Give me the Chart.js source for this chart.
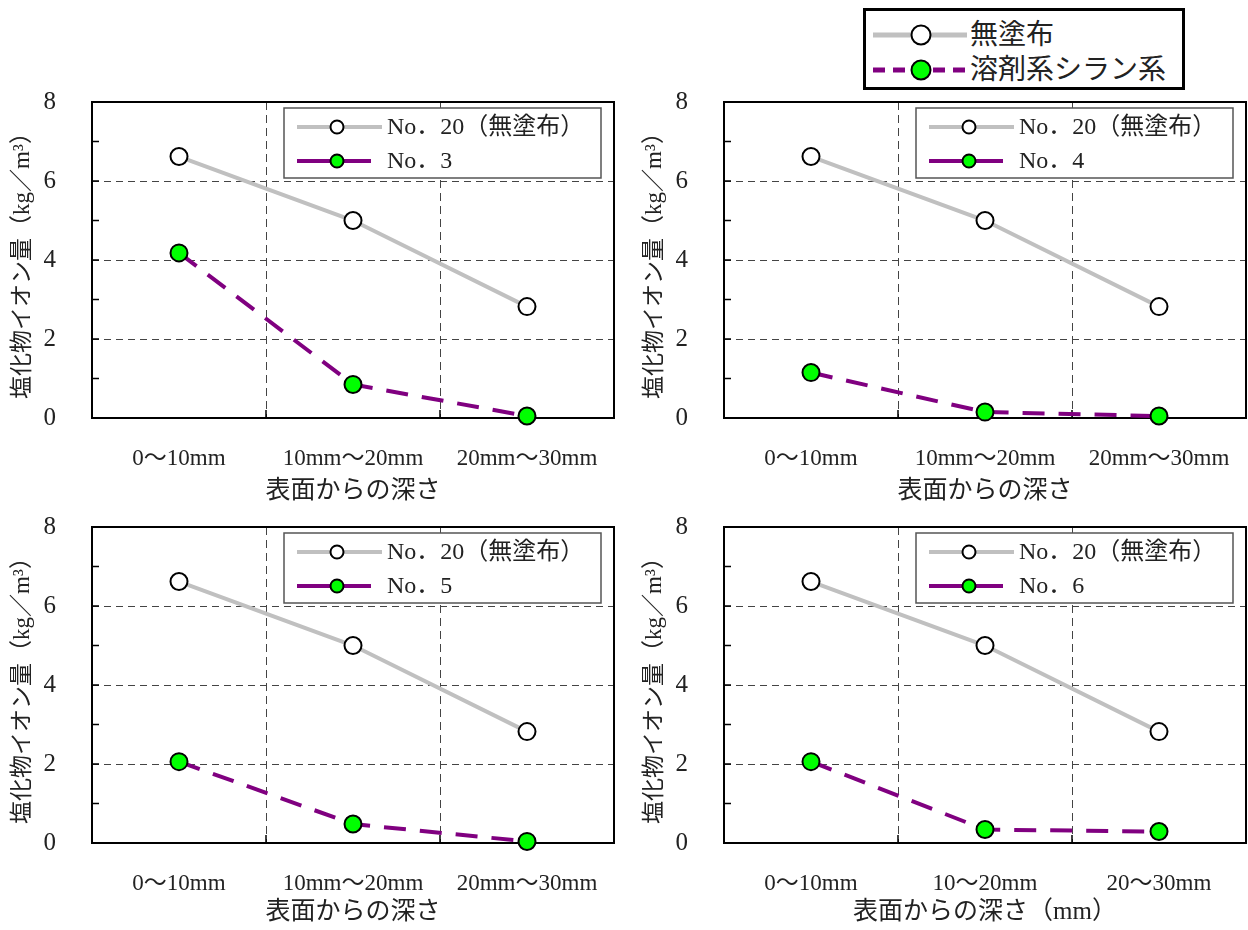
<!DOCTYPE html>
<html>
<head>
<meta charset="utf-8">
<script src="https://cdn.jsdelivr.net/npm/chart.js@4/dist/chart.umd.min.js"></script>
<style>
    body { margin: 0; background: #fff; width: 1248px; height: 930px; position: relative; overflow: hidden; }
    canvas { position: absolute; }
    #legend { position: absolute; left: 863px; top: 8px; width: 316px; height: 76px; border: 3px solid #000; background: #fff; }
    #legend svg { position: absolute; left: 0; top: 0; }
    #legend span { position: absolute; left: 104px; font: 28px 'Liberation Serif', 'Noto Sans CJK JP', serif; color: #222; line-height: 32px; }
</style>
</head>
<body>
<canvas id="p1" width="616" height="515" style="left:0;top:0"></canvas>
<canvas id="p2" width="616" height="515" style="left:632px;top:0"></canvas>
<canvas id="p3" width="616" height="490" style="left:0;top:440px"></canvas>
<canvas id="p4" width="616" height="490" style="left:632px;top:440px"></canvas>
<div id="legend">
    <svg width="316" height="76">
        <line x1="7" y1="24" x2="101" y2="24" stroke="#c0c0c0" stroke-width="5"/>
        <circle cx="55" cy="24" r="9.5" fill="#fff" stroke="#000" stroke-width="2"/>
        <line x1="7" y1="59" x2="101" y2="59" stroke="#800080" stroke-width="5" stroke-dasharray="12 8"/>
        <circle cx="55" cy="59" r="9.5" fill="#00ff00" stroke="#000" stroke-width="2"/>
    </svg>
    <span style="top:8px">無塗布</span>
    <span style="top:43px">溶剤系シラン系</span>
</div>
<script>
const depthLabels = ['0～10mm', '10mm～20mm', '20mm～30mm'];
const depthLabelsShort = ['0～10mm', '10～20mm', '20～30mm'];
const yMax = 8;
const yStep = 2;

const uncoated = [6.62, 5.0, 2.82];
const no3 = [4.18, 0.85, 0.05];
const no4 = [1.15, 0.15, 0.05];
const no5 = [2.06, 0.48, 0.04];
const no6 = [2.06, 0.34, 0.29];

const serif = "'Liberation Serif', 'Noto Sans CJK JP', serif";
const textColor = '#222';

// black frame + small inner ticks
const frame = {
    id: 'frame',
    beforeDatasetsDraw(chart) {
        const { ctx, chartArea: a, scales: { x, y } } = chart;
        ctx.save();
        ctx.strokeStyle = '#000';
        ctx.lineWidth = 1.5;
        ctx.beginPath();
        for (let v = 1; v < yMax; v++) {
            const py = y.getPixelForValue(v);
            ctx.moveTo(a.left, py);
            ctx.lineTo(a.left + 7, py);
        }
        for (let i = 0; i < chart.data.labels.length - 1; i++) {
            const px = x.getPixelForValue(i + 0.5);
            ctx.moveTo(px, a.bottom);
            ctx.lineTo(px, a.bottom - 8);
        }
        ctx.stroke();
        ctx.lineWidth = 2;
        ctx.strokeRect(a.left, a.top, a.right - a.left, a.bottom - a.top);
        ctx.restore();
    }
};

// boxed legend in the upper right of the plot
const boxLegend = {
    id: 'boxLegend',
    afterDraw(chart) {
        const { ctx, chartArea: a } = chart;
        const left = a.left + 192, top = a.top + 6, right = a.right - 13;
        ctx.save();
        ctx.fillStyle = '#fff';
        ctx.fillRect(left, top, right - left, 70);
        ctx.strokeStyle = '#555';
        ctx.lineWidth = 1.5;
        ctx.strokeRect(left, top, right - left, 70);
        chart.data.datasets.forEach((ds, i) => {
            const cy = top + 19 + i * 34;
            ctx.strokeStyle = ds.borderColor;
            ctx.lineWidth = 4;
            ctx.beginPath();
            ctx.moveTo(left + 13, cy);
            ctx.lineTo(left + (i === 0 ? 98 : 87), cy);
            ctx.stroke();
            ctx.beginPath();
            ctx.arc(left + 53, cy, 6.5, 0, Math.PI * 2);
            ctx.fillStyle = ds.pointBackgroundColor;
            ctx.fill();
            ctx.strokeStyle = '#000';
            ctx.lineWidth = 2;
            ctx.stroke();
            ctx.fillStyle = textColor;
            ctx.font = `24px ${serif}`;
            ctx.textBaseline = 'middle';
            ctx.fillText(ds.label, left + 103, cy + 1);
        });
        ctx.restore();
    }
};

// fixed axis sizes, no label overhang padding
function fixEdges(scale) {
    scale.paddingLeft = 0;
    scale.paddingRight = 0;
}

function makePanel(id, opts) {
    return new Chart(document.getElementById(id), {
        type: 'line',
        data: {
            labels: opts.labels,
            datasets: [
                { label: 'No．20（無塗布）', data: uncoated, borderColor: '#c0c0c0', borderWidth: 4, pointRadius: 8.5, pointBackgroundColor: '#fff', pointBorderColor: '#000', pointBorderWidth: 2, tension: 0, clip: false },
                { label: opts.name, data: opts.series, borderColor: '#800080', borderWidth: 4, borderDash: [22, 14], pointRadius: 8.5, pointBackgroundColor: '#00ff00', pointBorderColor: '#000', pointBorderWidth: 2, tension: 0, clip: false }
            ]
        },
        options: {
            responsive: false,
            animation: false,
            layout: { autoPadding: false, padding: { top: opts.padTop, right: 2, left: 0, bottom: 0 } },
            plugins: { legend: { display: false }, tooltip: { enabled: false } },
            scales: {
                x: {
                    offset: true,
                    grid: { offset: true, color: '#444', lineWidth: 1, drawTicks: false },
                    border: { display: false, dash: [8, 5] },
                    ticks: { padding: 27, maxRotation: 0, color: textColor, font: { family: serif, size: 23 } },
                    title: { display: true, text: opts.xTitle, color: textColor, font: { family: serif, size: 25 }, padding: { top: 0, bottom: opts.xTitlePad } },
                    afterFit(scale) { scale.height = opts.xHeight; fixEdges(scale); }
                },
                y: {
                    min: 0,
                    max: yMax,
                    grid: { color: '#444', lineWidth: 1, drawTicks: false },
                    border: { display: false, dash: [7, 5] },
                    ticks: { stepSize: yStep, padding: 36, color: textColor, font: { family: serif, size: 25 } },
                    title: { display: true, text: '塩化物イオン量（kg／m³）', color: textColor, font: { family: serif, size: 23 }, padding: { top: 9, bottom: 0 } },
                    afterFit(scale) { scale.width = 92; fixEdges(scale); }
                }
            }
        },
        plugins: [frame, boxLegend]
    });
}

makePanel('p1', { name: 'No．3', series: no3, labels: depthLabels, xTitle: '表面からの深さ', padTop: 102, xHeight: 97, xTitlePad: 9 });
makePanel('p2', { name: 'No．4', series: no4, labels: depthLabels, xTitle: '表面からの深さ', padTop: 102, xHeight: 97, xTitlePad: 9 });
makePanel('p3', { name: 'No．5', series: no5, labels: depthLabels, xTitle: '表面からの深さ', padTop: 87, xHeight: 87, xTitlePad: 3 });
makePanel('p4', { name: 'No．6', series: no6, labels: depthLabelsShort, xTitle: '表面からの深さ（mm）', padTop: 87, xHeight: 87, xTitlePad: 3 });
</script>
</body>
</html>
